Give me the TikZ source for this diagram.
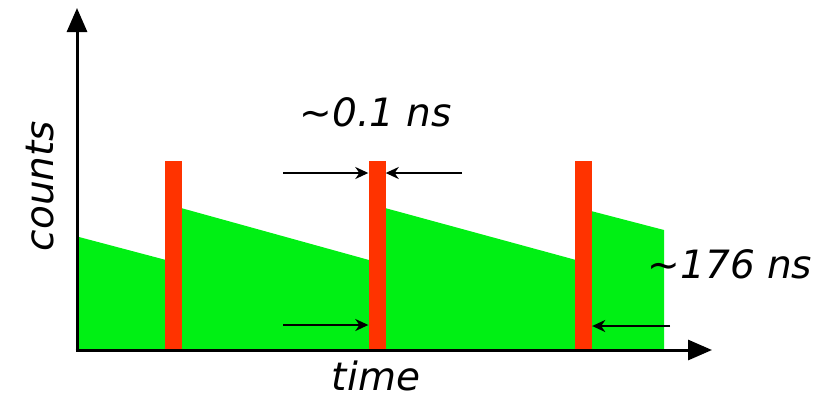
\documentclass[tikz,border=0pt]{standalone}
\usepackage{fontspec}
\setmainfont{DejaVu Sans}
\usetikzlibrary{arrows.meta}
\definecolor{pulsered}{RGB}{255,51,0}
\definecolor{decaygreen}{RGB}{0,240,20}

\begin{document}
\begin{tikzpicture}[x=1pt,y=-1pt,inner sep=0pt,
				axis/.style={line width=3pt,-{Triangle[length=24pt,width=20pt]}},
				dim/.style={line width=1.8pt,-{Stealth[length=13pt,width=12pt,inset=4pt]}},
				bar/.style={rectangle,fill=pulsered,minimum width=17pt,minimum height=191pt},
				decay/.style={fill=decaygreen},
				lbl/.style={font=\fontsize{39}{42}\selectfont\itshape}]
				
				\useasboundingbox (0,0) rectangle (834,400);
				
				\foreach \xa/\ya/\xb/\yb in {79/237/166/260,181/208/369/260,385/208/576/260,591/211/664/230}{
					\fill[decay] (\xa,350) -- (\xa,\ya) -- (\xb,\yb) -- (\xb,350) -- cycle;
				};
				
				\foreach \n/\x in {1/173.5,2/377,3/583.5}{
					\node[bar] (b\n) at (\x,256) {};
				};
				
				\coordinate (o) at (77,350);
				\coordinate (ytip) at (77,8);
				\coordinate (xtip) at (712,350);
				\draw[axis] (o) -- (ytip);
				\draw[axis] ([xshift=-1.5pt]o) -- (xtip);
				
				\coordinate (wl) at (283,173);
				\coordinate (wr) at (462,173);
				\coordinate (pl) at (283,325);
				\coordinate (pr) at (670,326);
				\draw[dim] (wl) -- (b2.west |- wl);
				\draw[dim] (wr) -- (b2.east |- wr);
				\draw[dim] (pl) -- (b2.west |- pl);
				\draw[dim] (pr) -- (b3.east |- pr);
				
				\node[lbl] (width) at (376,112) {\textasciitilde0.1 ns};
				\node[lbl] (period) at (730,264) {\textasciitilde176 ns};
				\node[lbl,rotate=90] (counts) at (40,186) {counts};
				\node[lbl] (time) at (376,376) {time};
				
			\end{tikzpicture}
\end{document}
